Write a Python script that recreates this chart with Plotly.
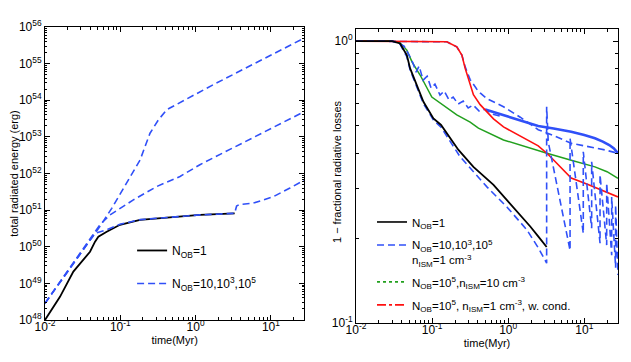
import plotly.graph_objects as go

# ---------------- left panel: total radiated energy (erg) ----------------
# all N_OB > 1 curves start together
t_shared = [0.01, 0.0238, 0.0462]
e_shared = [2.86e48, 3.55e49, 2.34e50]

t_n1 = [0.01, 0.0158, 0.0238, 0.032, 0.0396, 0.0462, 0.0511, 0.066, 0.099, 0.183, 0.506, 1.14, 3.3]
e_n1 = [1e48, 4.3e48, 2.1e49, 4.3e49, 7.3e49, 1.38e50, 1.89e50, 2.57e50, 3.98e50, 5.4e50, 6.6e50, 7.4e50, 8.2e50]

t_n10 = [0.066, 0.099, 0.183, 0.506, 1.14, 3.3, 3.5, 3.8, 5.8, 8.0, 10.8, 17.9, 27.7]
e_n10 = [2.9e50, 4.1e50, 5.5e50, 6.6e50, 7.4e50, 8.2e50, 1.3e51, 1.42e51, 1.55e51, 1.9e51, 2.34e51, 4.0e51, 6.6e51]

t_n1e3 = [0.0537, 0.073, 0.099, 0.149, 0.304, 0.621, 1.14, 27.7]
e_n1e3 = [4.0e50, 7.4e50, 1.12e51, 1.9e51, 4.4e51, 8.3e51, 1.74e52, 4.9e53]

t_n1e5 = [0.0537, 0.0769, 0.0896, 0.1216, 0.183, 0.248, 0.320, 0.413, 0.762, 1.70, 27.7]
e_n1e5 = [3.6e50, 1.12e51, 1.9e51, 5.4e51, 2.34e52, 1.26e53, 2.9e53, 5.5e53, 1.07e54, 2.63e54, 5.0e55]

# ---------------- right panel: 1 - fractional radiative losses ----------------
tr_n1 = [0.01, 0.0298, 0.0379, 0.0465, 0.0514, 0.0629, 0.0769, 0.104, 0.131, 0.222, 0.349, 0.641, 1.17, 1.95, 2.51, 3.2]
fr_n1 = [1.0, 1.0, 0.981, 0.892, 0.800, 0.698, 0.609, 0.532, 0.504, 0.411, 0.358, 0.309, 0.258, 0.220, 0.202, 0.186]

tr_n10 = [0.01, 0.0298, 0.0379, 0.0465, 0.0514, 0.0629, 0.0769, 0.104, 0.131, 0.233, 0.525, 0.961, 1.76, 2.51, 3.2,
          3.2, 3.36, 6.5, 6.5, 9.7, 9.7, 12.5, 12.5, 16.1, 16.1, 19.7, 19.7, 22.9, 22.9, 25.8, 25.8, 27.7]
fr_n10 = [1.0, 1.0, 0.975, 0.88, 0.79, 0.69, 0.60, 0.525, 0.495, 0.389, 0.304, 0.258, 0.214, 0.184, 0.163,
          0.585, 0.439, 0.181, 0.452, 0.208, 0.405, 0.217, 0.373, 0.192, 0.335, 0.189, 0.313, 0.174, 0.280, 0.157, 0.262, 0.148]

tr_n1e3 = [0.01, 0.0298, 0.0357, 0.0428, 0.0498, 0.0562, 0.0615, 0.0675, 0.0762, 0.0860, 0.0970, 0.109, 0.127, 0.144,
           0.167, 0.189, 0.220, 0.256, 0.298, 0.346, 0.415, 0.498, 0.616, 0.785]
fr_n1e3 = [1.0, 1.0, 0.985, 0.960, 0.892, 0.834, 0.776, 0.815, 0.727, 0.751, 0.681, 0.704, 0.643, 0.665,
           0.618, 0.633, 0.598, 0.613, 0.579, 0.593, 0.565, 0.573, 0.551, 0.542]

# late, noisy part of the N_OB=10^3 run (looks like a thick band)
tr_n1e3_late = [0.5, 0.58, 0.867, 1.44, 2.48, 3.95, 6.73, 10.0, 13.8, 17.5, 21.3, 24.5, 27.7]
fr_n1e3_late = [0.572, 0.565, 0.547, 0.522, 0.500, 0.490, 0.477, 0.464, 0.452, 0.440, 0.428, 0.416, 0.400]

tr_n1e5 = [0.01, 0.120, 0.156, 0.211, 0.246, 0.272, 0.316, 0.387, 0.428, 0.525, 0.867, 1.44, 2.48, 3.95, 6.73, 18.7, 27.7]
fr_n1e5 = [1.0, 1.0, 0.994, 0.954, 0.892, 0.81, 0.73, 0.675, 0.655, 0.625, 0.585, 0.537, 0.485, 0.462, 0.434, 0.411, 0.400]

tr_dense = [0.01, 0.0298, 0.0379, 0.0465, 0.0546, 0.0695, 0.0991, 0.127, 0.211, 0.316, 0.406, 0.867, 1.44, 2.48, 3.23,
            6.73, 13.8, 19.9, 27.7]
fr_dense = [1.0, 1.0, 0.986, 0.929, 0.842, 0.758, 0.633, 0.603, 0.547, 0.516, 0.491, 0.446, 0.428, 0.407, 0.400,
            0.378, 0.358, 0.344, 0.326]

tr_cond = [0.01, 0.120, 0.156, 0.211, 0.246, 0.272, 0.316, 0.349, 0.428, 0.525, 0.641, 0.867, 1.44, 2.48, 3.36, 4.56,
           6.73, 11.2, 18.7, 27.7]
fr_cond = [1.0, 1.0, 0.994, 0.954, 0.892, 0.80, 0.71, 0.645, 0.595, 0.562, 0.530, 0.496, 0.461, 0.425, 0.396, 0.364,
           0.327, 0.310, 0.292, 0.280]

BLACK = "black"
BLUE = "#3050f8"
GREEN = "#22a01e"
RED = "#ff1010"
DASH = "7px,4px"
FONT = "Liberation Sans, Arial, sans-serif"

fig = go.Figure()

# left panel traces
fig.add_trace(go.Scatter(x=t_n1, y=e_n1, mode="lines", line=dict(color=BLACK, width=1.8),
                         name="N<sub>OB</sub>=1", legend="legend", legendgroup="a"))
fig.add_trace(go.Scatter(x=t_shared + t_n10, y=e_shared + e_n10, mode="lines",
                         line=dict(color=BLUE, width=1.6, dash=DASH),
                         name="N<sub>OB</sub>=10,10<sup>3</sup>,10<sup>5</sup>", legend="legend", legendgroup="b"))
fig.add_trace(go.Scatter(x=t_shared[:-1] + t_n1e3, y=e_shared[:-1] + e_n1e3, mode="lines",
                         line=dict(color=BLUE, width=1.6, dash=DASH), showlegend=False))
fig.add_trace(go.Scatter(x=t_shared[:-1] + t_n1e5, y=e_shared[:-1] + e_n1e5, mode="lines",
                         line=dict(color=BLUE, width=1.6, dash=DASH), showlegend=False))

# right panel traces
fig.add_trace(go.Scatter(x=tr_dense, y=fr_dense, mode="lines", line=dict(color=GREEN, width=1.5),
                         xaxis="x2", yaxis="y2", showlegend=False))
fig.add_trace(go.Scatter(x=tr_n1e3_late, y=fr_n1e3_late, mode="lines", line=dict(color=BLUE, width=2.6),
                         xaxis="x2", yaxis="y2", showlegend=False))
fig.add_trace(go.Scatter(x=tr_n1e3, y=fr_n1e3, mode="lines", line=dict(color=BLUE, width=1.6, dash=DASH),
                         xaxis="x2", yaxis="y2", showlegend=False))
fig.add_trace(go.Scatter(x=tr_n1e5, y=fr_n1e5, mode="lines", line=dict(color=BLUE, width=1.6, dash=DASH),
                         xaxis="x2", yaxis="y2", showlegend=False))
fig.add_trace(go.Scatter(x=tr_cond, y=fr_cond, mode="lines", line=dict(color=RED, width=1.6),
                         xaxis="x2", yaxis="y2", showlegend=False))
fig.add_trace(go.Scatter(x=tr_n10, y=fr_n10, mode="lines", line=dict(color=BLUE, width=1.6, dash=DASH),
                         xaxis="x2", yaxis="y2", showlegend=False))
fig.add_trace(go.Scatter(x=tr_n1, y=fr_n1, mode="lines", line=dict(color=BLACK, width=1.8),
                         xaxis="x2", yaxis="y2", showlegend=False))

# right legend entries
legend_items = [
    ("N<sub>OB</sub>=1", BLACK, "solid"),
    ("N<sub>OB</sub>=10,10<sup>3</sup>,10<sup>5</sup><br>n<sub>ISM</sub>=1 cm<sup>-3</sup>", BLUE, DASH),
    ("N<sub>OB</sub>=10<sup>5</sup>,n<sub>ISM</sub>=10 cm<sup>-3</sup>", GREEN, "dot"),
    ("N<sub>OB</sub>=10<sup>5</sup>, n<sub>ISM</sub>=1 cm<sup>-3</sup>, w. cond.", RED, "dashdot"),
]
for i, (label, color, dash) in enumerate(legend_items):
    fig.add_trace(go.Scatter(x=[None], y=[None], mode="lines", line=dict(color=color, width=1.6, dash=dash),
                             name=label, xaxis="x2", yaxis="y2", legend="legend2", legendgroup=f"r{i}"))

xt_vals = [0.01, 0.1, 1, 10]
xt_text = ["10<sup>-2</sup>", "10<sup>-1</sup>", "10<sup>0</sup>", "10<sup>1</sup>"]
x_minor = [m * 10 ** d for d in range(-2, 2) for m in range(2, 10)]
ey_vals = [10.0 ** p for p in range(48, 57)]
ey_text = [f"10<sup>{p}</sup>" for p in range(48, 57)]
ey_minor = [m * 10.0 ** p for p in range(48, 56) for m in range(2, 10)]
fy_minor = [m / 10 for m in range(2, 10)]

axis_common = dict(type="log", showline=True, linecolor="black", linewidth=1, mirror="allticks",
                   ticks="inside", ticklen=5, tickcolor="black", showgrid=False, zeroline=False,
                   automargin=False, tickfont=dict(size=12, color="black"))

# the page body keeps its default 8px margin, so the figure is 16px smaller than the window
fig.update_layout(
    width=615, height=346,
    margin=dict(l=37, r=5, t=19, b=31),
    paper_bgcolor="white", plot_bgcolor="white",
    font=dict(family=FONT, color="black"),
    xaxis=dict(axis_common, domain=[0, 0.4525], range=[-2, 1.443], tickvals=xt_vals, ticktext=xt_text,
               ticklabelstandoff=-4,
               minor=dict(tickvals=x_minor, ticks="inside", ticklen=3, tickcolor="black"),
               title=dict(text="time(Myr)", font=dict(size=11), standoff=0)),
    yaxis=dict(axis_common, domain=[0.0101, 1.0], range=[48, 56], tickvals=ey_vals, ticktext=ey_text,
               minor=dict(tickvals=ey_minor, ticks="inside", ticklen=2, tickcolor="black"),
               title=dict(text="total radiated energy (erg)", font=dict(size=11), standoff=3)),
    xaxis2=dict(axis_common, domain=[0.5428, 1.0], range=[-2, 1.443], tickvals=xt_vals, ticktext=xt_text,
                anchor="y2", ticklabelstandoff=-4,
                minor=dict(tickvals=x_minor, ticks="inside", ticklen=3, tickcolor="black"),
                title=dict(text="time(Myr)", font=dict(size=11), standoff=0)),
    yaxis2=dict(axis_common, domain=[0, 0.993], range=[-1, 0.0426], tickvals=[0.1, 1],
                ticktext=["10<sup>-1</sup>", "10<sup>0</sup>"], anchor="x2",
                minor=dict(tickvals=fy_minor, ticks="inside", ticklen=3, tickcolor="black")),
    annotations=[dict(text="1 − fractional radiative losses", xref="paper", yref="paper",
                      x=0.5096, y=0.51, xanchor="center", yanchor="middle", textangle=-90,
                      showarrow=False, font=dict(size=11))],
    legend=dict(x=0.152, y=0.294, xanchor="left", yanchor="top", bgcolor="rgba(0,0,0,0)",
                font=dict(size=12), tracegroupgap=14),
    legend2=dict(x=0.5707, y=0.3885, xanchor="left", yanchor="top", bgcolor="rgba(0,0,0,0)",
                 font=dict(size=11.5), tracegroupgap=4, valign="top"),
)

fig.write_html("out.html")
